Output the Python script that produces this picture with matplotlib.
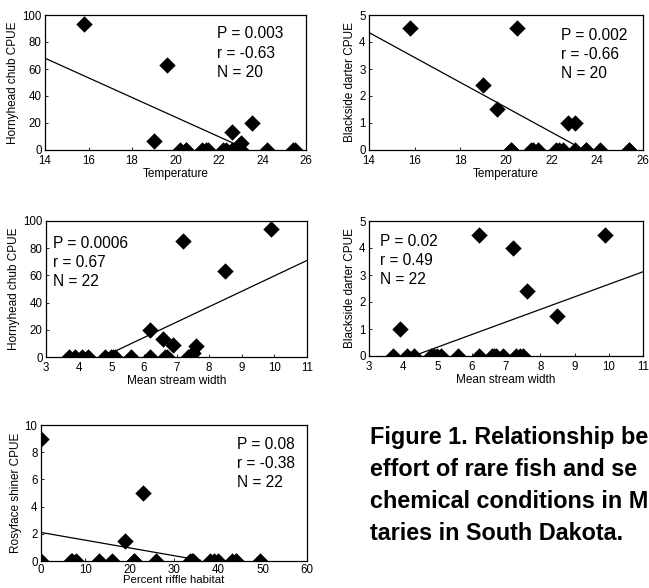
import matplotlib
matplotlib.use("Agg")
import matplotlib.pyplot as plt

plt.rcParams['font.family'] = ['Liberation Sans', 'DejaVu Sans']

# Panel 1: Hornyhead chub CPUE vs Temperature
p1_x = [15.8, 19.6, 19.0, 22.6, 23.5, 23.0, 20.2, 20.5, 21.2, 21.5, 22.2, 22.6,
        22.9, 24.2, 25.5, 20.5, 21.4, 22.3, 23.0, 25.4]
p1_y = [93, 63, 7, 13, 20, 5, 0, 0, 0, 0, 0, 0, 0, 0, 0, 0, 0, 0, 0, 0]
p1_line_x = [14, 22.8]
p1_line_y = [68, 4]

# Panel 2: Blackside darter CPUE vs Temperature
p2_x = [15.8, 20.5, 19.0, 19.6, 22.7, 23.0, 20.2, 21.1, 21.4, 22.2, 22.5, 23.0,
        23.5, 24.1, 25.4, 20.2, 21.2, 22.3, 23.5, 25.4]
p2_y = [4.5, 4.5, 2.4, 1.5, 1.0, 1.0, 0, 0, 0, 0, 0, 0, 0, 0, 0, 0, 0, 0, 0, 0]
p2_line_x = [14, 23.2]
p2_line_y = [4.35, 0.1]

# Panel 3: Hornyhead chub CPUE vs Mean stream width
p3_x = [9.9, 7.2, 8.5, 6.2, 6.6, 6.9, 7.6, 7.5, 3.7, 3.9, 4.1, 4.3, 4.8, 5.0,
        5.1, 5.6, 6.2, 6.65, 7.35, 7.4, 5.05, 6.7]
p3_y = [94, 85, 63, 20, 13, 9, 8, 3, 0, 0, 0, 0, 0, 0, 0, 0, 0, 0, 0, 0, 0, 0]
p3_line_x = [5.05, 11]
p3_line_y = [3.5, 71]

# Panel 4: Blackside darter CPUE vs Mean stream width
p4_x = [3.9, 6.2, 7.2, 7.6, 8.5, 9.9, 3.7, 4.1, 4.3, 4.8, 4.9, 5.1, 5.6, 6.2,
        6.6, 6.7, 6.9, 7.3, 7.5, 5.0, 6.65, 7.4]
p4_y = [1.0, 4.5, 4.0, 2.4, 1.5, 4.5, 0, 0, 0, 0, 0, 0, 0, 0, 0, 0, 0, 0, 0, 0, 0, 0]
p4_line_x = [4.4, 11]
p4_line_y = [0.05, 3.12]

# Panel 5: Rosyface shiner CPUE vs Percent riffle habitat
p5_x = [0, 23, 19, 0, 6.8, 8, 13, 16, 21, 26, 33.5, 34.3, 38.2, 40, 43, 44, 49.3,
        39, 44, 34, 21, 7]
p5_y = [9, 5, 1.5, 0, 0, 0, 0, 0, 0, 0, 0, 0, 0, 0, 0, 0, 0, 0, 0, 0, 0, 0]
p5_line_x = [0, 36]
p5_line_y = [2.1, 0.05]

W, H = 649, 588
fig = plt.figure(figsize=(W / 100, H / 100), dpi=100)


def make_ax(l, r, t, b):
    return fig.add_axes([l / W, 1 - b / H, (r - l) / W, (b - t) / H])


panels = [
    dict(rect=(45, 306, 15, 150), x=p1_x, y=p1_y, lx=p1_line_x, ly=p1_line_y,
         xlim=(14, 26), ylim=(0, 100), xt=range(14, 27, 2), yt=range(0, 101, 20),
         xlabel='Temperature', ylabel='Hornyhead chub CPUE',
         txt=['P = 0.003', 'r = -0.63', 'N = 20'], tpos=(0.66, 0.915)),
    dict(rect=(369, 643, 15, 150), x=p2_x, y=p2_y, lx=p2_line_x, ly=p2_line_y,
         xlim=(14, 26), ylim=(0, 5), xt=range(14, 27, 2), yt=range(0, 6),
         xlabel='Temperature', ylabel='Blackside darter CPUE',
         txt=['P = 0.002', 'r = -0.66', 'N = 20'], tpos=(0.702, 0.907)),
    dict(rect=(46, 307, 221, 357), x=p3_x, y=p3_y, lx=p3_line_x, ly=p3_line_y,
         xlim=(3, 11), ylim=(0, 100), xt=range(3, 12), yt=range(0, 101, 20),
         xlabel='Mean stream width', ylabel='Hornyhead chub CPUE',
         txt=['P = 0.0006', 'r = 0.67', 'N = 22'], tpos=(0.027, 0.893)),
    dict(rect=(369, 643, 221, 356), x=p4_x, y=p4_y, lx=p4_line_x, ly=p4_line_y,
         xlim=(3, 11), ylim=(0, 5), xt=range(3, 12), yt=range(0, 6),
         xlabel='Mean stream width', ylabel='Blackside darter CPUE',
         txt=['P = 0.02', 'r = 0.49', 'N = 22'], tpos=(0.04, 0.907)),
    dict(rect=(41, 307, 425, 561), x=p5_x, y=p5_y, lx=p5_line_x, ly=p5_line_y,
         xlim=(0, 60), ylim=(0, 10), xt=range(0, 61, 10), yt=range(0, 11, 2),
         xlabel='Percent riffle habitat', ylabel='Rosyface shiner CPUE',
         txt=['P = 0.08', 'r = -0.38', 'N = 22'], tpos=(0.737, 0.915)),
]

for i, p in enumerate(panels):
    last = i == len(panels) - 1
    ax = make_ax(*p['rect'])
    ax.plot(p['lx'], p['ly'], color='black', lw=0.9)
    ax.scatter(p['x'], p['y'], marker='D', s=70, color='black', zorder=3,
               linewidths=0)
    ax.set_xlim(*p['xlim'])
    ax.set_ylim(*p['ylim'])
    ax.set_xticks(list(p['xt']))
    ax.set_yticks(list(p['yt']))
    ax.tick_params(direction='in', length=2.5, width=0.6, labelsize=8.3)
    ax.tick_params(axis='x', pad=2.5 if last else 3.5)
    ax.tick_params(axis='y', pad=2.5)
    ax.set_xlabel(p['xlabel'], fontsize=8.2 if last else 8.5,
                  labelpad=-1 if last else 1)
    ax.set_ylabel(p['ylabel'], fontsize=8.5, labelpad=2)
    for s in ax.spines.values():
        s.set_linewidth(0.9)
    ax.text(p['tpos'][0], p['tpos'][1], '\n'.join(p['txt']), transform=ax.transAxes,
            fontsize=11.2, va='top', ha='left', linespacing=1.35)

caption = ['Figure 1. Relationship be',
           'effort of rare fish and se',
           'chemical conditions in M',
           'taries in South Dakota.']
caption_baselines = [444, 476, 508, 540]
for line, yb in zip(caption, caption_baselines):
    fig.text(370 / W, 1 - yb / H, line, fontsize=16.8, fontweight='bold',
             va='baseline', ha='left')

fig.savefig('out.png', dpi=100)
